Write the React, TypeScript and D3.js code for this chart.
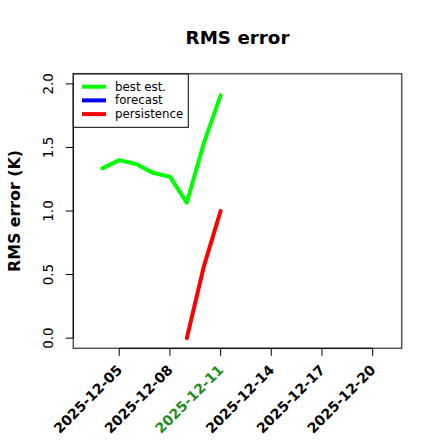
import React from "react";
import * as d3 from "d3";

const days: string[] = ["2025-12-04","2025-12-05","2025-12-06","2025-12-07","2025-12-08","2025-12-09","2025-12-10","2025-12-11"];
const bestEst: number[] = [1.335, 1.40, 1.37, 1.30, 1.27, 1.065, 1.53, 1.91];
const persDays: string[] = ["2025-12-09","2025-12-10","2025-12-11"];
const persistence: number[] = [0.0, 0.56, 1.0];
const xTicks: string[] = ["2025-12-05","2025-12-08","2025-12-11","2025-12-14","2025-12-17","2025-12-20"];
const yTicks: number[] = [0, 0.5, 1.0, 1.5, 2.0];
const legendLabels: string[] = ["best est.", "forecast", "persistence"];
const legendColors: string[] = ["#00ff00", "#0000ff", "#ff0000"];
const highlightDay = "2025-12-11";

const parse = (s: string) => new Date(s + "T00:00:00Z");

export default function App() {
  const left = 73.3, right = 401.7, top = 73.7, bottom = 348.3;
  const start = parse("2025-12-03").getTime();
  const end = parse("2025-12-21").getTime();
  const pad = (end - start) * 0.04;
  const x = d3.scaleUtc().domain([new Date(start - pad), new Date(end + pad)]).range([left, right]);
  const y = d3.scaleLinear().domain([-0.08, 2.08]).range([bottom, top]);
  const line = d3.line<[Date, number]>().x(d => x(d[0])).y(d => y(d[1]));
  const bestPts: [Date, number][] = days.map((d, i) => [parse(d), bestEst[i]]);
  const persPts: [Date, number][] = persDays.map((d, i) => [parse(d), persistence[i]]);
  const font = "'DejaVu Sans', sans-serif";
  const tickLen = 7.5;
  return (
    <svg width={440} height={440} style={{ position: "absolute", left: 0, top: 0, background: "#fff" }} fontFamily={font}>
      <rect x={0} y={0} width={440} height={440} fill="#fff" />
      <text x={(left + right) / 2} y={44} textAnchor="middle" fontWeight="bold" fontSize={18.3}>RMS error</text>
      <text transform={`translate(19.5,${(top + bottom) / 2}) rotate(-90)`} textAnchor="middle" fontWeight="bold" fontSize={15.8}>RMS error (K)</text>
      <path d={line(bestPts) || ""} fill="none" stroke="#00ff00" strokeWidth={4} strokeLinejoin="round" strokeLinecap="round" />
      <path d={line(persPts) || ""} fill="none" stroke="#ff0000" strokeWidth={4} strokeLinejoin="round" strokeLinecap="round" />
      <rect x={left} y={top} width={right - left} height={bottom - top} fill="none" stroke="#555" strokeWidth={1.5} />
      <line x1={left} x2={left} y1={y(yTicks[0])} y2={y(yTicks[yTicks.length - 1])} stroke="#000" strokeWidth={1} />
      {yTicks.map(t => (
        <g key={t}>
          <line x1={left - tickLen} x2={left} y1={y(t)} y2={y(t)} stroke="#000" strokeWidth={1} />
          <text transform={`translate(53,${y(t)}) rotate(-90)`} textAnchor="middle" fontSize={13.5}>{t.toFixed(1)}</text>
        </g>
      ))}
      <line x1={x(parse(xTicks[0]))} x2={x(parse(xTicks[xTicks.length - 1]))} y1={bottom} y2={bottom} stroke="#000" strokeWidth={1} />
      {xTicks.map(t => {
        const px = x(parse(t));
        return (
          <g key={t}>
            <line x1={px} x2={px} y1={bottom} y2={bottom + tickLen} stroke="#000" strokeWidth={1} />
            <text transform={`translate(${px + 1},${368}) rotate(-45)`} textAnchor="end" dominantBaseline="middle" fontWeight="bold" fontSize={14} fill={t === highlightDay ? "#228b22" : "#000"}>{t}</text>
          </g>
        );
      })}
      <rect x={left} y={74} width={115} height={53.3} fill="#fff" stroke="#000" strokeWidth={1} />
      {legendLabels.map((l, i) => (
        <g key={l}>
          <line x1={82} x2={106} y1={86.7 + i * 13.7} y2={86.7 + i * 13.7} stroke={legendColors[i]} strokeWidth={4} />
          <text x={115} y={86.7 + i * 13.7 + 4} fontSize={11.8}>{l}</text>
        </g>
      ))}
    </svg>
  );
}
